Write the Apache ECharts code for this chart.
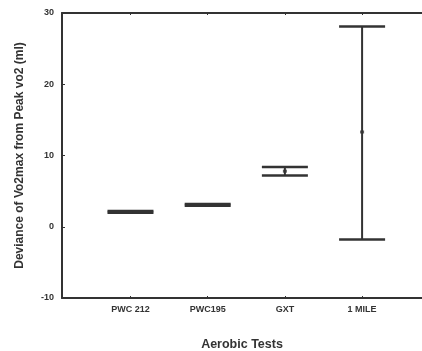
<!DOCTYPE html>
<html>
<head>
<meta charset="utf-8">
<script src="https://cdn.jsdelivr.net/npm/echarts@6/dist/echarts.min.js"></script>
<style>
  html, body { margin: 0; padding: 0; background: #fff; }
  #chart { width: 422px; height: 351px; }
</style>
</head>
<body>
<div id="chart"></div>
<script>
const categories = ["PWC 212", "PWC195", "GXT", "1 MILE"];
const positions = [1, 2, 3, 4];
const lowValues = [1.95, 2.95, 7.2, -1.8];
const highValues = [2.2, 3.2, 8.4, 28.1];
const meanValues = [2.05, 3.1, 7.8, 13.3];
const yTicks = [-10, 0, 10, 20, 30];

const ink = "#333";
const font = "Liberation Sans";
const xMin = 0.113, xMax = 4.776;
const chart = echarts.init(document.getElementById("chart"));

const errData = positions.map((p, i) => [p, lowValues[i], highValues[i]]);

chart.setOption({
  animation: false,
  grid: { left: 62, right: 0, top: 13, bottom: 53, outerBoundsMode: "none", containLabel: false },
  xAxis: [
    {
      type: "value",
      min: xMin,
      max: xMax,
      name: "Aerobic Tests",
      nameLocation: "middle",
      nameGap: 40,
      nameTextStyle: { color: ink, fontSize: 12.5, fontWeight: "bold", fontFamily: font },
      splitLine: { show: false },
      axisLine: { show: true, onZero: false, lineStyle: { color: ink, width: 2 } },
      axisTick: { show: true, inside: true, length: 2, customValues: positions, lineStyle: { color: ink } },
      axisLabel: {
        customValues: positions,
        color: ink, fontSize: 9, fontWeight: "bold", fontFamily: font, margin: 7,
        formatter: (v) => categories[positions.indexOf(Math.round(v))] || ""
      }
    },
    {
      // top frame line
      type: "value",
      position: "top",
      min: xMin,
      max: xMax,
      splitLine: { show: false },
      axisLine: { show: true, onZero: false, lineStyle: { color: ink, width: 2 } },
      axisTick: { show: true, inside: true, length: 2, customValues: positions, lineStyle: { color: ink } },
      axisLabel: { show: false }
    }
  ],
  yAxis: {
    type: "value",
    min: -10,
    max: 30,
    interval: 10,
    name: "Deviance of Vo2max from Peak vo2 (ml)",
    nameLocation: "middle",
    nameGap: 36,
    nameTextStyle: { color: ink, fontSize: 12, fontWeight: "bold", fontFamily: font },
    splitLine: { show: false },
    axisLine: { show: true, onZero: false, lineStyle: { color: ink, width: 2 } },
    axisTick: { show: true, inside: true, length: 3, lineStyle: { color: ink } },
    axisLabel: {
      color: ink, fontSize: 9, fontWeight: "bold", fontFamily: font, margin: 8,
      customValues: yTicks
    }
  },
  series: [
    {
      type: "custom",
      data: errData,
      renderItem: (params, api) => {
        const x = api.value(0);
        const lo = api.coord([x, api.value(1)]);
        const hi = api.coord([x, api.value(2)]);
        const half = 23;
        const style = { stroke: ink, lineWidth: 2.5 };
        return {
          type: "group",
          children: [
            { type: "line", shape: { x1: lo[0], y1: lo[1], x2: hi[0], y2: hi[1] }, style: { stroke: ink, lineWidth: 2 } },
            { type: "line", shape: { x1: lo[0] - half, y1: lo[1], x2: lo[0] + half, y2: lo[1] }, style },
            { type: "line", shape: { x1: hi[0] - half, y1: hi[1], x2: hi[0] + half, y2: hi[1] }, style }
          ]
        };
      },
      z: 3
    },
    {
      type: "scatter",
      data: positions.map((p, i) => [p, meanValues[i]]),
      symbol: "rect",
      symbolSize: [4, 3],
      itemStyle: { color: ink },
      z: 4
    }
  ]
});
</script>
</body>
</html>
